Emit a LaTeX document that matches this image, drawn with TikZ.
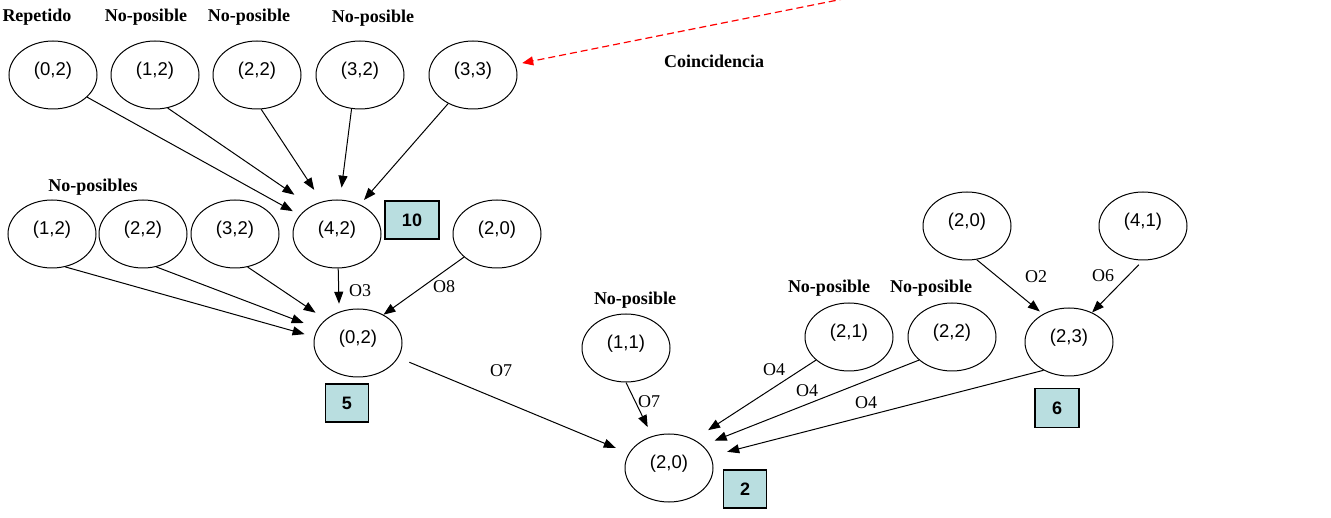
\documentclass[tikz,border=0pt]{standalone}
\usepackage{fontspec}
\setmainfont{Liberation Serif}
\newfontfamily\arialfont{Liberation Sans}
\usetikzlibrary{arrows.meta, positioning, shapes.geometric}
\definecolor{boxcyan}{RGB}{185,222,224}

\begin{document}
\begin{tikzpicture}[
    x=1pt, y=-1pt,
    state/.style={ellipse, draw, line width=1pt, minimum width=88pt, minimum height=68pt, inner sep=0pt, font=\arialfont\fontsize{18.5}{20}\selectfont, text height=13pt, text depth=12pt},
    cost/.style={rectangle, draw, line width=1.2pt, fill=boxcyan, minimum width=43pt, minimum height=38pt, font=\arialfont\bfseries\fontsize{18}{20}\selectfont},
    tag/.style={font=\bfseries\fontsize{18}{20}\selectfont},
    op/.style={font=\fontsize{18}{20}\selectfont},
    arrow/.style={-{Triangle[length=12pt,width=9pt]}, line width=1pt},
    redarrow/.style={-{Triangle[length=11pt,width=9pt]}, red, dashed, dash pattern=on 7pt off 4pt, line width=1.2pt}
]
\useasboundingbox (0,0) rectangle (1331,518);

% top row
\node[state] (t02) at (53,75) {(0,2)};
\node[state] (t12) at (155,75) {(1,2)};
\node[state] (t22) at (257,75) {(2,2)};
\node[state] (t32) at (360,75) {(3,2)};
\node[state] (t33) at (473,75) {(3,3)};
\node[tag] (rep) at (37,17) {Repetido};
\node[tag] (np1) at (146,17) {No-posible};
\node[tag] (np2) at (249,17) {No-posible};
\node[tag] (np3) at (373,18) {No-posible};
\node[tag] (coin) at (714,61) {Coincidencia};
\coordinate (farstart) at (868,-6);

% second row
\node[state] (m12) at (52,234) {(1,2)};
\node[state] (m22) at (143,234) {(2,2)};
\node[state] (m32) at (235,234) {(3,2)};
\node[state] (m42) at (337,234) {(4,2)};
\node[state] (m20) at (497,234) {(2,0)};
\node[tag] (nps) at (93,187) {No-posibles};
\node[cost, minimum width=54pt] (c10) at (412,220) {10};

% lower part
\node[state] (b02) at (358,343) {(0,2)};
\node[cost] (c5) at (347,403) {5};
\node[state] (b11) at (626,348) {(1,1)};
\node[tag] (np4) at (635,300) {No-posible};
\node[state] (bot20) at (669,468) {(2,0)};
\node[cost] (c2) at (745,489) {2};

% right part
\node[state] (t20r) at (967,226) {(2,0)};
\node[state] (t41) at (1143,226) {(4,1)};
\node[state] (r21) at (849,337) {(2,1)};
\node[state] (r22) at (952,337) {(2,2)};
\node[state] (r23) at (1069,342) {(2,3)};
\node[tag] (np5) at (829,288) {No-posible};
\node[tag] (np6) at (931,288) {No-posible};
\node[cost, minimum width=44pt, minimum height=39pt] (c6) at (1057,408) {6};

% operators
\node[op] (o3) at (360,291) {O3};
\node[op] (o8) at (444,287) {O8};
\node[op] (o7a) at (501,371) {O7};
\node[op] (o7b) at (649,402) {O7};
\node[op] (o4a) at (774,370) {O4};
\node[op] (o4b) at (807,391) {O4};
\node[op] (o4c) at (866,403) {O4};
\node[op] (o2) at (1036,277) {O2};
\node[op] (o6) at (1103,276) {O6};

\draw[arrow, shorten >=8pt] (t02.-33) -- (m42.153);
\draw[arrow, shorten >=20pt] (t12.-69) -- (m42.133);
\draw[arrow, shorten >=14pt] (t22.-83) -- (m42.115);
\draw[arrow, shorten >=12pt] (t32.-104) -- (m42.85);
\draw[arrow, shorten >=6pt] (t33.-131) -- (m42.52);
\draw[redarrow, shorten >=7pt] (farstart) -- (t33.14);

\draw[arrow, shorten >=10pt] (m12.-68) -- (b02.172);
\draw[arrow, shorten >=15pt] (m22.-68) -- (b02.160);
\draw[arrow, shorten >=12pt] (m32.-69) -- (b02.144);
\draw[arrow, shorten >=8pt] (m42.-88) -- (b02.121);
\draw[arrow] (m20.-145) -- (b02.48);

\draw[arrow, shorten <=12pt, shorten >=14pt] (b02.-20) -- (bot20.160);
\draw[arrow, shorten >=10pt] (b11.south) -- (bot20.118);
\draw[arrow, shorten >=17pt] (r21.-145) -- (bot20.49);
\draw[arrow, shorten >=13pt] (r22.-145) -- (bot20.34);
\draw[arrow, shorten >=17pt] (r23.-132) -- (bot20.16);
\draw[arrow, shorten >=4pt] (t20r.-74) -- (r23.133);
\draw[arrow, shorten <=6pt] (t41.south) -- (r23.52);
\end{tikzpicture}
\end{document}
